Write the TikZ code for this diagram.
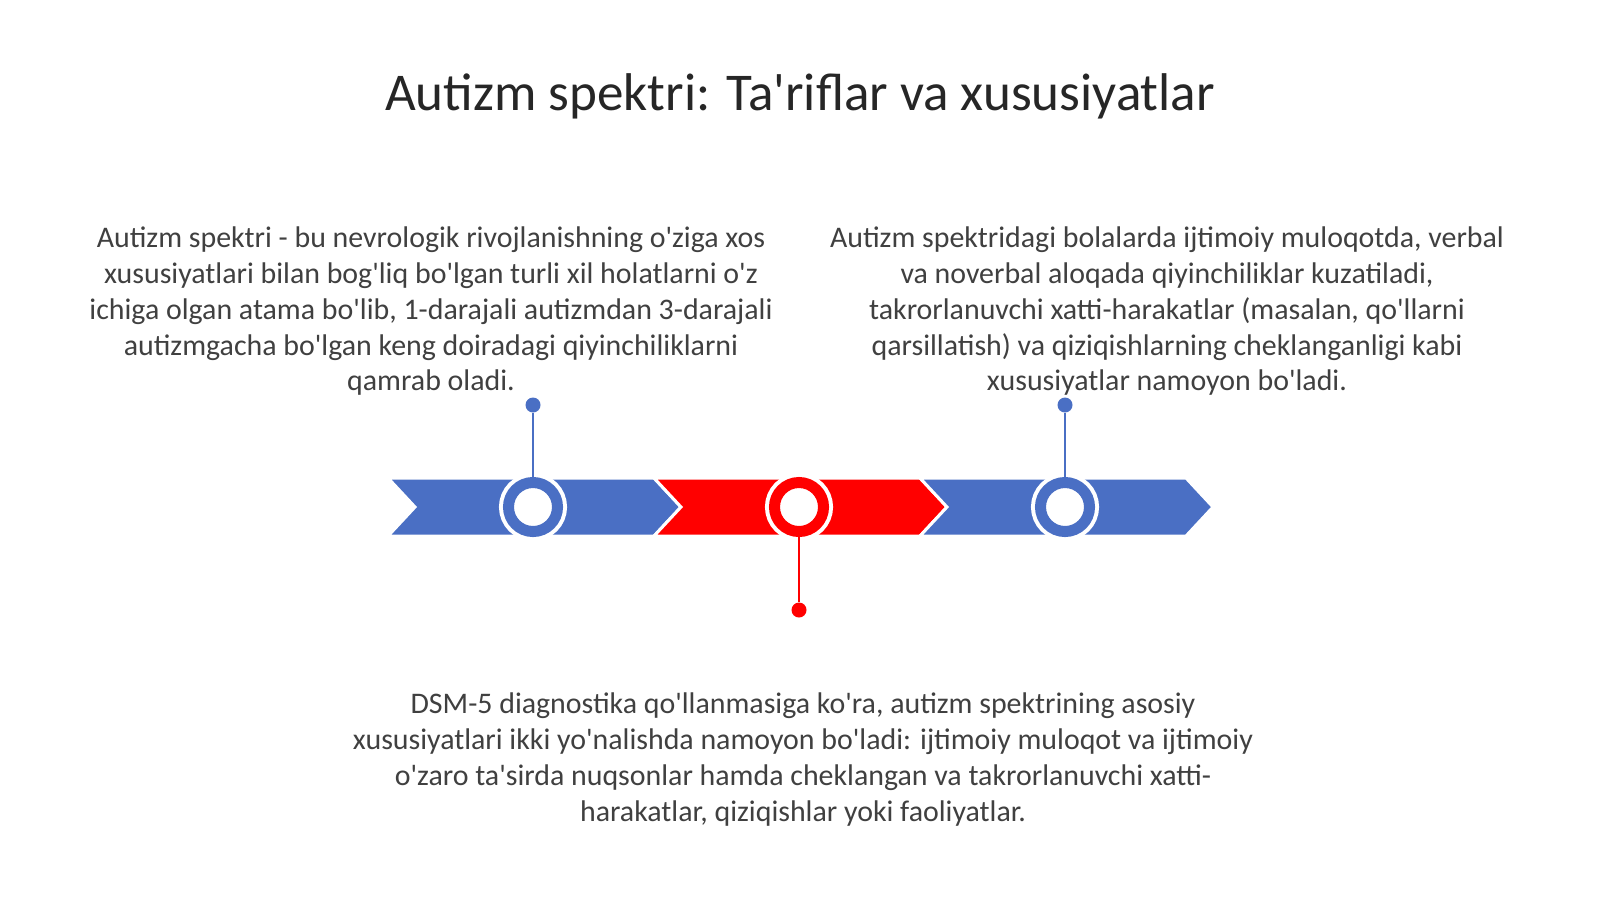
\documentclass[tikz,border=0pt]{standalone}
\usepackage{fontspec}
\setmainfont{Carlito}[Ligatures=TeXOff]
\definecolor{tlblue}{HTML}{4A6FC4}
\definecolor{tlred}{HTML}{FF0000}
\definecolor{tltext}{HTML}{404040}
\definecolor{tltitle}{HTML}{262626}
\tikzset{
  chev/.style={fill=#1, draw=white, line width=0.03cm, line join=miter},
  ring/.style={circle, inner sep=0pt, minimum size=0.49cm, draw=#1, line width=0.11cm,
    fill=white, preaction={draw=white, line width=0.19cm}},
  dot/.style={circle, inner sep=0pt, minimum size=0.15cm, fill=#1},
  stem/.style={draw=#1, line width=0.025cm},
  txt/.style={text=tltext, align=center, inner sep=0pt, anchor=north,
    font=\fontsize{8.5}{10.2}\selectfont},
}
\begin{document}
\begin{tikzpicture}[x=0.01cm, y=-0.01cm]
        \useasboundingbox[fill=white] (0,0) rectangle (1600,899);
        \node[text=tltitle, inner sep=0pt, anchor=base, font=\fontsize{15.1}{18}\selectfont]
            (title) at (800,110) {Autizm spektri: Ta'riflar va xususiyatlar};
        \foreach\i/\c in {0/tlblue,1/tlred,2/tlblue}
        {%
            \pgfmathsetmacro\L{388+266*\i}
            \path[chev=\c] (\L,478) -- ++(266,0) -- ++(27,29) -- ++(-27,29)
                -- ++(-266,0) -- ++(27,-29) -- cycle;
        }
        \node[ring=tlblue] (r1) at (533,507) {};
        \node[ring=tlred]  (r2) at (799,507) {};
        \node[ring=tlblue] (r3) at (1065,507) {};
        \node[dot=tlblue] (d1) at (533,405) {};
        \node[dot=tlred]  (d2) at (799,610) {};
        \node[dot=tlblue] (d3) at (1065,405) {};
        \draw[stem=tlblue] (r1) -- (d1);
        \draw[stem=tlred]  (r2) -- (d2);
        \draw[stem=tlblue] (r3) -- (d3);
        \node[txt] (t1) at (431,226) {Autizm spektri - bu nevrologik rivojlanishning o'ziga xos\\
            xususiyatlari bilan bog'liq bo'lgan turli xil holatlarni o'z\\
            ichiga olgan atama bo'lib, 1-darajali autizmdan 3-darajali\\
            autizmgacha bo'lgan keng doiradagi qiyinchiliklarni\\
            qamrab oladi.};
        \node[txt] (t2) at (1167,226) {Autizm spektridagi bolalarda ijtimoiy muloqotda, verbal\\
            va noverbal aloqada qiyinchiliklar kuzatiladi,\\
            takrorlanuvchi xatti-harakatlar (masalan, qo'llarni\\
            qarsillatish) va qiziqishlarning cheklanganligi kabi\\
            xususiyatlar namoyon bo'ladi.};
        \node[txt] (t3) at (803,692) {DSM-5 diagnostika qo'llanmasiga ko'ra, autizm spektrining asosiy\\
            xususiyatlari ikki yo'nalishda namoyon bo'ladi: ijtimoiy muloqot va ijtimoiy\\
            o'zaro ta'sirda nuqsonlar hamda cheklangan va takrorlanuvchi xatti-\\
            harakatlar, qiziqishlar yoki faoliyatlar.};
\end{tikzpicture}
\end{document}
